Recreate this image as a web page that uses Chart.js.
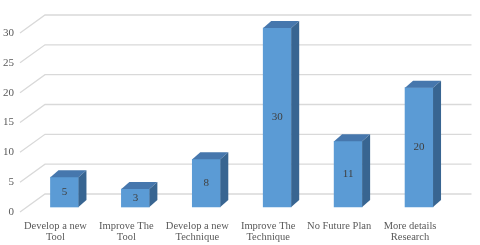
<!DOCTYPE html>
<html>
<head>
<meta charset="utf-8">
<script src="https://cdn.jsdelivr.net/npm/chart.js@4/dist/chart.umd.min.js"></script>
<style>
  html, body { margin: 0; padding: 0; background: #fff; }
  #wrap { width: 480px; height: 245px; }
</style>
</head>
<body>
<div id="wrap"><canvas id="planChart"></canvas></div>
<script>
// chart data
const categories = [
    ['Develop a new', 'Tool'],
    ['Improve The', 'Tool'],
    ['Develop a new', 'Technique'],
    ['Improve The', 'Technique'],
    ['No Future Plan'],
    ['More details', 'Research']
];
const counts = [5, 3, 8, 30, 11, 20];
const yTicks = [0, 5, 10, 15, 20, 25, 30];

// fake 3D look (Excel style column chart)
const BAR_DX = 9, BAR_DY = -5;      // bars sit a bit behind the front plane
const DEPTH_X = 8, DEPTH_Y = 7;     // depth of each bar
const WALL_X = 25, WALL_Y = 18;     // back wall offset

const threeD = {
    id: 'threeD',
    beforeDatasetsDraw(chart) {
        const ctx = chart.ctx;
        const y = chart.scales.y;
        const area = chart.chartArea;
        ctx.save();
        ctx.strokeStyle = '#d9d9d9';
        ctx.lineWidth = 1.3;
        yTicks.forEach(v => {
            const py = y.getPixelForValue(v);
            ctx.beginPath();
            ctx.moveTo(area.left, py);
            ctx.lineTo(area.left + WALL_X, py - WALL_Y);
            ctx.lineTo(area.right + WALL_X + 1, py - WALL_Y);
            ctx.stroke();
        });
        ctx.restore();
        ctx.save();
        ctx.translate(BAR_DX, BAR_DY);
    },
    afterDatasetsDraw(chart) {
        const ctx = chart.ctx;
        ctx.restore();
        const meta = chart.getDatasetMeta(0);
        ctx.save();
        meta.data.forEach((bar, i) => {
            const p = bar.getProps(['x', 'y', 'base', 'width'], true);
            const cx = p.x + BAR_DX;
            const left = cx - p.width / 2, right = cx + p.width / 2;
            const top = p.y + BAR_DY, bottom = p.base + BAR_DY;

            // top face
            ctx.fillStyle = '#4677ad';
            ctx.beginPath();
            ctx.moveTo(left, top);
            ctx.lineTo(right, top);
            ctx.lineTo(right + DEPTH_X, top - DEPTH_Y);
            ctx.lineTo(left + DEPTH_X, top - DEPTH_Y);
            ctx.closePath();
            ctx.fill();

            // side face
            ctx.fillStyle = '#386591';
            ctx.beginPath();
            ctx.moveTo(right, top);
            ctx.lineTo(right + DEPTH_X, top - DEPTH_Y);
            ctx.lineTo(right + DEPTH_X, bottom - DEPTH_Y);
            ctx.lineTo(right, bottom);
            ctx.closePath();
            ctx.fill();

            // value label in the middle of the front face
            ctx.fillStyle = '#404040';
            ctx.font = '11px "Liberation Serif", "Times New Roman", serif';
            ctx.textAlign = 'center';
            ctx.textBaseline = 'middle';
            ctx.fillText(String(counts[i]), cx, (top + bottom) / 2);
        });
        ctx.restore();
    }
};

const ctx = document.getElementById('planChart').getContext('2d');
const planChart = new Chart(ctx, {
    type: 'bar',
    data: {
        labels: categories,
        datasets: [{
            data: counts,
            backgroundColor: '#5b9bd5',
            borderWidth: 0,
            barThickness: 28,
            clip: false
        }]
    },
    options: {
        responsive: true,
        maintainAspectRatio: false,
        animation: false,
        layout: { padding: { top: 33, right: 34.5, left: 0, bottom: 0 } },
        plugins: {
            legend: { display: false },
            tooltip: { enabled: false }
        },
        scales: {
            x: {
                grid: { display: false, drawTicks: false },
                border: { display: false },
                ticks: {
                    color: '#595959',
                    padding: 8,
                    maxRotation: 0,
                    autoSkip: false,
                    font: { family: '"Liberation Serif", "Times New Roman", serif', size: 10.5, lineHeight: 1.1 }
                },
                afterFit(scale) { scale.height = 33; }
            },
            y: {
                min: 0,
                max: 30,
                grid: { display: false, drawTicks: false },
                border: { display: false },
                ticks: {
                    stepSize: 5,
                    color: '#595959',
                    padding: 6,
                    font: { family: '"Liberation Serif", "Times New Roman", serif', size: 11 }
                },
                afterFit(scale) { scale.width = 20; }
            }
        }
    },
    plugins: [threeD]
});
</script>
</body>
</html>
